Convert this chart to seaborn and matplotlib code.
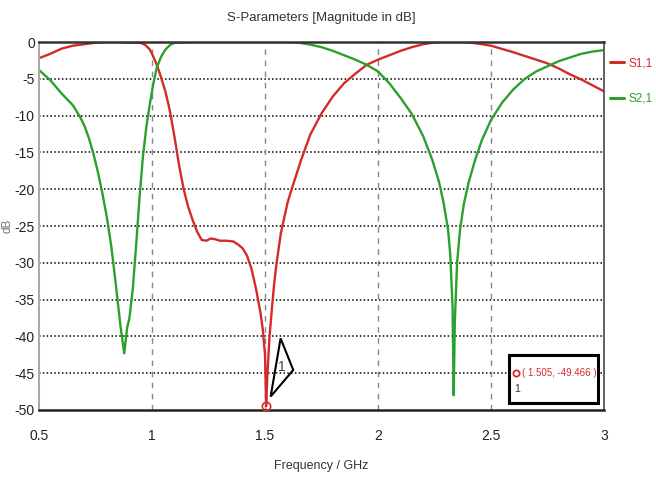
import numpy as np
import pandas as pd
import matplotlib
matplotlib.use("Agg")
import matplotlib.pyplot as plt
import seaborn as sns
from matplotlib import font_manager
from matplotlib.patches import Rectangle, Polygon

# S1,1 (GHz, dB)
freq_s11 = [0.5, 0.55, 0.6, 0.65, 0.7, 0.75, 0.8, 0.85, 0.9, 0.95, 0.97, 0.99,
            1.0, 1.02, 1.04, 1.06, 1.08, 1.1, 1.12, 1.14, 1.16, 1.18, 1.2, 1.22,
            1.24, 1.26, 1.28, 1.3, 1.33, 1.36, 1.38, 1.4, 1.42, 1.44, 1.46, 1.48,
            1.49, 1.5, 1.505, 1.51, 1.52, 1.53, 1.54, 1.55, 1.57, 1.6, 1.62, 1.66,
            1.7, 1.75, 1.8, 1.85, 1.9, 1.95, 2.0, 2.05, 2.1, 2.15, 2.2, 2.25, 2.3,
            2.35, 2.4, 2.45, 2.5, 2.55, 2.6, 2.65, 2.7, 2.75, 2.8, 2.85, 2.9, 2.95, 3.0]
db_s11 = [-2.2, -1.6, -0.9, -0.5, -0.3, -0.1, 0.0, 0.0, -0.1, -0.1, -0.4, -1.0,
          -1.6, -3.0, -4.8, -6.8, -9.5, -13.0, -16.8, -20.0, -22.4, -24.2, -25.8, -26.9,
          -27.0, -26.7, -26.8, -27.0, -27.0, -27.1, -27.5, -28.0, -29.0, -30.8, -33.5, -36.8,
          -39.0, -42.5, -49.466, -45.5, -40.0, -36.4, -33.0, -30.3, -26.0, -21.8, -19.8, -16.0,
          -12.6, -9.7, -7.4, -5.6, -4.3, -3.1, -2.4, -1.8, -1.2, -0.7, -0.3, -0.05, 0.0,
          0.0, -0.05, -0.25, -0.5, -0.95, -1.4, -1.9, -2.4, -2.9, -3.6, -4.4, -5.1, -5.9, -6.7]

# S2,1
freq_s21 = [0.5, 0.55, 0.6, 0.65, 0.68, 0.7, 0.72, 0.74, 0.76, 0.78, 0.8, 0.82,
            0.84, 0.86, 0.877, 0.89, 0.9, 0.915, 0.93, 0.945, 0.96, 0.975, 0.99, 1.005,
            1.02, 1.04, 1.06, 1.08, 1.1, 1.2, 1.3, 1.4, 1.5, 1.6, 1.65, 1.7, 1.75, 1.8,
            1.85, 1.9, 1.95, 2.0, 2.05, 2.1, 2.15, 2.2, 2.24, 2.27, 2.29, 2.31, 2.32,
            2.33, 2.335, 2.34, 2.35, 2.363, 2.38, 2.4, 2.43, 2.46, 2.5, 2.55, 2.6, 2.65,
            2.7, 2.75, 2.8, 2.85, 2.9, 2.95, 3.0]
db_s21 = [-3.8, -5.2, -7.0, -8.6, -10.1, -11.3, -13.0, -15.1, -17.6, -20.5, -23.8, -27.8,
          -33.0, -38.5, -42.3, -38.8, -37.5, -33.5, -27.5, -21.0, -15.5, -11.5, -8.5, -5.8,
          -3.6, -2.0, -1.0, -0.4, -0.1, 0.0, 0.0, 0.0, 0.0, 0.0, -0.1, -0.35, -0.7, -1.2,
          -1.8, -2.4, -3.1, -4.0, -5.6, -7.6, -9.8, -12.8, -16.0, -19.0, -21.8, -25.5, -29.0,
          -36.0, -48.0, -38.0, -30.0, -25.5, -22.0, -19.2, -16.0, -13.3, -10.6, -8.2, -6.4, -5.0,
          -4.0, -3.3, -2.6, -2.1, -1.6, -1.3, -1.1]

marker_f = 1.505
marker_db = -49.466

x_ticks = [0.5, 1, 1.5, 2, 2.5, 3]
y_ticks = [0, -5, -10, -15, -20, -25, -30, -35, -40, -45, -50]

RED = "#d42a2a"
GREEN = "#2ca02c"

sns.set_theme(style="white")

# pick a narrow face if one is installed
fonts = font_manager.fontManager.ttflist
names = {f.name for f in fonts}
if "Liberation Sans Narrow" in names:
    plt.rcParams["font.family"] = ["Liberation Sans Narrow", "DejaVu Sans"]
else:
    plt.rcParams["font.family"] = ["Liberation Sans", "DejaVu Sans"]
plt.rcParams["axes.unicode_minus"] = False

df = pd.concat([
    pd.DataFrame({"f": freq_s11, "dB": db_s11, "curve": "S1,1"}),
    pd.DataFrame({"f": freq_s21, "dB": db_s21, "curve": "S2,1"}),
])

fig = plt.figure(figsize=(6.56, 4.84), dpi=100)
ax = fig.add_axes([0.0595, 0.1529, 0.8612, 0.7603])

sns.lineplot(data=df, x="f", y="dB", hue="curve", palette=[RED, GREEN],
             sort=False, estimator=None, lw=1.7, ax=ax)

ax.set_xlim(0.5, 3)
ax.set_ylim(-50, 0)
ax.set_xticks(x_ticks)
ax.set_xticklabels([f"{t:g}" for t in x_ticks])
ax.set_yticks(y_ticks)
ax.tick_params(axis="both", length=0, labelsize=10, colors="#222222")
ax.tick_params(axis="y", pad=3)
ax.tick_params(axis="x", pad=14)

for y in y_ticks[1:-1]:
    ax.axhline(y, color="black", ls=(0, (1, 1.5)), lw=1.1, zorder=0)
for x in x_ticks[1:-1]:
    ax.axvline(x, color="#888888", ls=(0, (4, 4)), lw=1.0, zorder=0)

ax.spines["top"].set_color("#333333")
ax.spines["top"].set_linewidth(1.8)
ax.spines["bottom"].set_color("#222222")
ax.spines["bottom"].set_linewidth(1.8)
ax.spines["left"].set_color("#aaaaaa")
ax.spines["left"].set_linewidth(1.5)
ax.spines["right"].set_color("#555555")
ax.spines["right"].set_linewidth(1.3)

ax.set_title("S-Parameters [Magnitude in dB]", fontsize=9.5, color="#333333", pad=15)
ax.set_xlabel("Frequency / GHz", fontsize=9, color="#333333", labelpad=12)
ax.set_ylabel("dB", fontsize=8.5, color="#777777")
ax.yaxis.set_label_coords(-0.046, 0.5)

leg = ax.legend(loc="upper left", bbox_to_anchor=(1.0, 0.975), frameon=False,
                fontsize=8.5, handlelength=1.2, handletextpad=0.4, labelspacing=2.0,
                labelcolor="linecolor", borderaxespad=0.3, borderpad=0.2)
for h in leg.get_lines():
    h.set_linewidth(2.2)

# marker 1 on S1,1
ax.plot([marker_f], [marker_db], marker="o", ms=6, mfc="none", mec=RED, mew=1.2,
        clip_on=False, zorder=5)
tri = Polygon([[marker_f + 0.02, marker_db + 1.3], [marker_f + 0.064, marker_db + 9.2],
               [marker_f + 0.12, marker_db + 4.9]], closed=True, fill=False,
              edgecolor="black", lw=1.5, zorder=5)
ax.add_patch(tri)
ax.text(marker_f + 0.07, marker_db + 5.3, "1", fontsize=10, color="#444444",
        ha="center", va="center", zorder=6)

# readout box
ax.add_patch(Rectangle((0.832, 0.018), 0.158, 0.131, transform=ax.transAxes,
                       fill=True, facecolor="white", edgecolor="black", lw=2.2, zorder=6))
ax.plot([0.845], [0.10], transform=ax.transAxes, marker="o", ms=4.5, mfc="none",
        mec=RED, mew=1.3, zorder=7)
ax.text(0.847, 0.058, "1", transform=ax.transAxes, fontsize=7.5, color="#333333",
        ha="center", va="center", zorder=7)
ax.text(0.921, 0.10, f"( {marker_f:.3f}, {marker_db:.3f} )", transform=ax.transAxes,
        fontsize=7, color=RED, ha="center", va="center", zorder=7)

fig.savefig("out.png", dpi=100)
